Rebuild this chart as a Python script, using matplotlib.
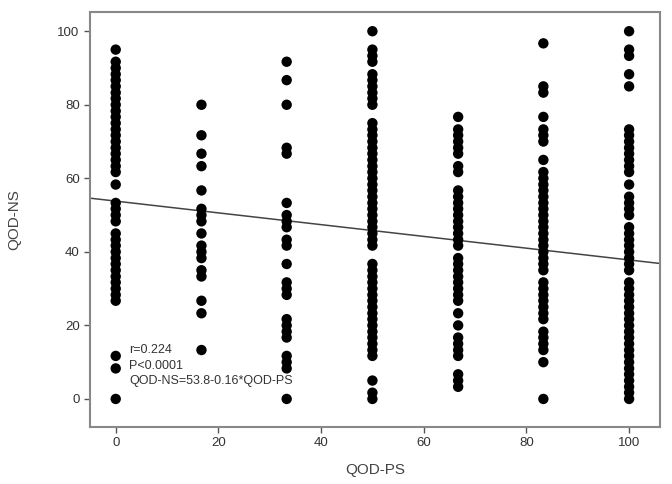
import numpy as np
import matplotlib.pyplot as plt

plt.rcParams['font.family'] = ['Liberation Sans', 'DejaVu Sans']

# QOD-PS levels (x) and QOD-NS scores
ps_levels = [0, 16.7, 33.3, 50, 66.7, 83.3, 100]

ns_0 = [95, 91.7, 90, 88.3, 86.7, 85, 83.3, 81.7, 80, 78.3, 76.7, 75, 73.3, 71.7,
        70, 68.3, 66.7, 65, 63.3, 61.7, 58.3, 53.3, 51.7, 50, 48.3, 45, 43.3, 41.7,
        40, 38.3, 36.7, 35, 33.3, 31.7, 30, 28.3, 26.7, 11.7, 8.3, 0]
ns_17 = [80, 71.7, 66.7, 63.3, 56.7, 51.7, 50, 48.3, 45, 41.7, 40, 38.3, 35, 33.3,
         26.7, 23.3, 13.3]
ns_33 = [91.7, 86.7, 80, 68.3, 66.7, 53.3, 50, 48.3, 46.7, 43.3, 41.7, 36.7, 31.7,
         30, 28.3, 21.7, 20, 18.3, 16.7, 11.7, 10, 8.3, 0]
ns_50 = [100, 95, 93.3, 91.7, 88.3, 86.7, 85, 83.3, 81.7, 80, 75, 73.3, 71.7, 70,
         68.3, 66.7, 65, 63.3, 61.7, 60, 58.3, 56.7, 55, 53.3, 51.7, 50, 48.3, 46.7,
         45, 43.3, 41.7, 36.7, 35, 33.3, 31.7, 30, 28.3, 26.7, 25, 23.3, 21.7, 20,
         18.3, 16.7, 15, 13.3, 11.7, 5, 1.7, 0]
ns_67 = [76.7, 73.3, 71.7, 70, 68.3, 66.7, 63.3, 61.7, 56.7, 55, 53.3, 51.7, 50,
         48.3, 46.7, 45, 43.3, 41.7, 38.3, 36.7, 35, 33.3, 31.7, 30, 28.3, 26.7,
         23.3, 20, 16.7, 15, 13.3, 11.7, 6.7, 5, 3.3]
ns_83 = [96.7, 85, 83.3, 76.7, 73.3, 71.7, 70, 65, 61.7, 60, 58.3, 56.7, 55, 53.3,
         51.7, 50, 48.3, 46.7, 45, 43.3, 41.7, 40, 38.3, 36.7, 35, 31.7, 30, 28.3,
         26.7, 25, 23.3, 21.7, 18.3, 16.7, 15, 13.3, 10, 0]
ns_100 = [100, 95, 93.3, 88.3, 85, 73.3, 71.7, 70, 68.3, 66.7, 65, 63.3, 61.7, 58.3,
          55, 53.3, 51.7, 50, 46.7, 45, 43.3, 41.7, 40, 38.3, 36.7, 35, 31.7, 30,
          28.3, 26.7, 25, 23.3, 21.7, 20, 18.3, 16.7, 15, 13.3, 11.7, 10, 8.3, 6.7,
          5, 3.3, 1.7, 0]
columns = [ns_0, ns_17, ns_33, ns_50, ns_67, ns_83, ns_100]

# regression line QOD-NS = 53.8 - 0.16*QOD-PS
intercept, slope = 53.8, -0.16
xlim = (-5, 106)

fig = plt.figure(figsize=(6.72, 4.84), dpi=100)
ax = fig.add_axes([0.134, 0.118, 0.848, 0.857])

for px, col in zip(ps_levels, columns):
    ax.scatter([px] * len(col), col, s=56, color='black', edgecolors='none', zorder=3)

xl = np.array(xlim)
ax.plot(xl, intercept + slope * xl, color='#444444', lw=1.1, zorder=2)

ax.text(2.6, 13.3, 'r=0.224', fontsize=9, color='#333333', va='center')
ax.text(2.6, 9.0, 'P<0.0001', fontsize=9, color='#333333', va='center')
ax.text(2.6, 4.8, 'QOD-NS=53.8-0.16*QOD-PS', fontsize=9, color='#333333', va='center')

ax.set_xlim(xlim)
ax.set_ylim(-7.6, 105.2)
ax.set_xticks([0, 20, 40, 60, 80, 100])
ax.set_yticks([0, 20, 40, 60, 80, 100])
ax.tick_params(direction='out', length=4, width=1, color='#555555',
               labelsize=9.5, labelcolor='#333333')
for s in ax.spines.values():
    s.set_color('#888888')
    s.set_linewidth(1.5)

ax.set_xlabel('QOD-PS', fontsize=11, color='#444444', labelpad=10)
ax.set_ylabel('QOD-NS', fontsize=11, color='#444444', labelpad=26)

fig.savefig('out.png', dpi=100)
